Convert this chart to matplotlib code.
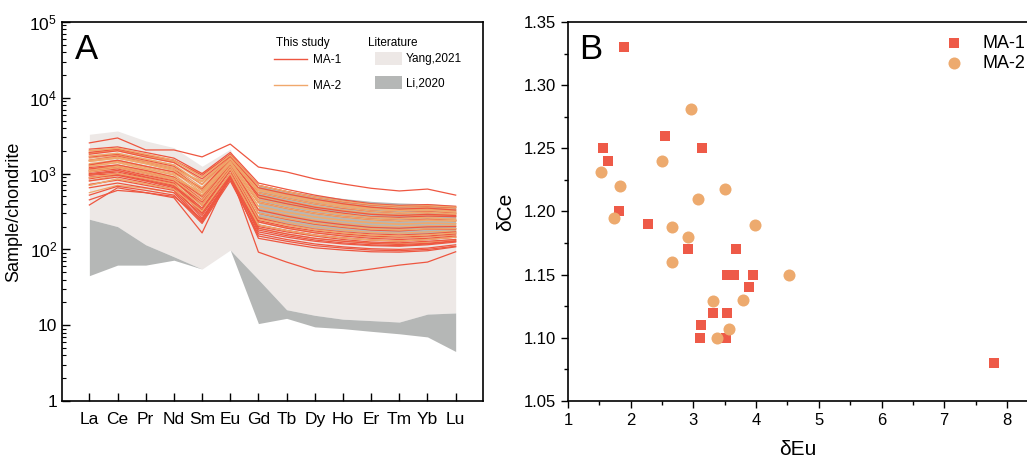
import matplotlib
matplotlib.use('Agg')
import matplotlib.pyplot as plt
import numpy as np
from matplotlib.lines import Line2D
from matplotlib.patches import Patch
from matplotlib.ticker import FixedLocator, FixedFormatter, MultipleLocator, LogLocator, NullFormatter

plt.rcParams['font.family'] = ['Liberation Sans', 'DejaVu Sans']
plt.rcParams['mathtext.default'] = 'regular'

# REE elements, chondrite normalised
elements = ['La', 'Ce', 'Pr', 'Nd', 'Sm', 'Eu', 'Gd', 'Tb', 'Dy', 'Ho', 'Er', 'Tm', 'Yb', 'Lu']

ma1_ree = [
    [2540, 2950, 2050, 2050, 1660, 2450, 1220, 1050, 850, 730, 640, 590, 625, 520],
    [385, 650, 560, 480, 165, 1000, 92, 68, 52, 49, 55, 62, 68, 93],
    [2100, 2250, 1900, 1600, 1000, 1900, 750, 620, 520, 450, 400, 380, 390, 370],
    [1800, 2000, 1650, 1400, 850, 1700, 650, 540, 460, 400, 360, 340, 350, 330],
    [1500, 1700, 1400, 1150, 600, 1500, 520, 430, 360, 320, 290, 280, 290, 280],
    [1200, 1300, 1100, 900, 500, 1400, 420, 350, 300, 270, 250, 240, 250, 240],
    [1050, 1150, 950, 800, 420, 1300, 300, 250, 215, 195, 180, 175, 185, 185],
    [950, 1000, 850, 700, 330, 1100, 230, 190, 165, 150, 140, 135, 140, 150],
    [1000, 1100, 900, 750, 300, 1000, 200, 170, 150, 135, 125, 122, 128, 135],
    [900, 950, 800, 650, 260, 900, 170, 145, 128, 118, 112, 110, 115, 125],
    [1100, 1200, 1000, 820, 380, 1200, 260, 215, 185, 170, 160, 155, 160, 170],
    [800, 900, 760, 620, 280, 950, 190, 160, 140, 128, 120, 116, 120, 130],
    [650, 750, 650, 560, 230, 850, 150, 128, 112, 104, 98, 96, 100, 110],
    [520, 680, 600, 520, 220, 800, 160, 135, 118, 108, 102, 100, 104, 115],
    [450, 600, 560, 500, 250, 900, 140, 120, 105, 98, 93, 92, 96, 108],
    [1300, 1500, 1250, 1050, 620, 1600, 480, 400, 340, 300, 270, 265, 275, 270],
    [1650, 1800, 1500, 1250, 720, 1650, 560, 470, 400, 350, 320, 305, 315, 300],
    [980, 1050, 880, 720, 350, 1150, 240, 200, 175, 160, 150, 145, 150, 160],
    [1150, 1250, 1050, 870, 450, 1350, 330, 275, 235, 212, 195, 190, 198, 200],
    [850, 980, 820, 680, 300, 1000, 210, 178, 155, 142, 133, 128, 135, 145],
    [1900, 2100, 1750, 1500, 950, 1800, 700, 580, 490, 425, 385, 365, 370, 355],
    [720, 820, 700, 600, 240, 880, 180, 152, 133, 122, 115, 112, 118, 128],
]

ma2_ree = [
    [2000, 2150, 1800, 1500, 900, 1750, 700, 580, 490, 430, 390, 370, 375, 360],
    [1850, 2000, 1700, 1400, 800, 1650, 620, 520, 440, 390, 350, 335, 340, 320],
    [1700, 1850, 1550, 1300, 720, 1550, 560, 470, 400, 355, 320, 305, 310, 295],
    [1600, 1750, 1450, 1200, 650, 1500, 500, 420, 360, 320, 290, 280, 285, 270],
    [1450, 1600, 1350, 1100, 600, 1450, 450, 380, 325, 290, 265, 255, 262, 250],
    [1350, 1500, 1250, 1050, 560, 1400, 410, 345, 295, 265, 245, 235, 242, 235],
    [1250, 1400, 1150, 960, 520, 1350, 370, 310, 268, 242, 225, 215, 222, 218],
    [1150, 1300, 1100, 900, 480, 1300, 340, 285, 245, 222, 205, 198, 205, 205],
    [1050, 1200, 1000, 830, 440, 1250, 300, 255, 220, 200, 185, 180, 186, 188],
    [950, 1100, 930, 770, 400, 1200, 270, 228, 198, 180, 168, 163, 170, 175],
    [880, 1000, 860, 720, 380, 1150, 250, 210, 182, 166, 155, 150, 156, 165],
    [800, 950, 800, 670, 350, 1100, 230, 194, 168, 154, 145, 140, 146, 155],
    [700, 850, 730, 620, 320, 1000, 210, 177, 154, 141, 133, 129, 135, 145],
    [560, 700, 640, 560, 300, 950, 190, 160, 140, 129, 122, 119, 124, 135],
    [1500, 1650, 1400, 1150, 780, 1600, 600, 500, 425, 375, 340, 325, 330, 310],
    [1900, 2050, 1700, 1450, 1000, 1700, 650, 545, 460, 405, 365, 350, 355, 340],
    [1100, 1250, 1050, 870, 560, 1400, 420, 350, 300, 270, 250, 240, 245, 240],
    [1300, 1450, 1200, 1000, 650, 1500, 520, 435, 370, 330, 300, 290, 295, 285],
]

# literature fields
yang_upper = [3300, 3650, 2700, 2200, 1250, 2100, 300, 250, 215, 195, 180, 175, 180, 180]
yang_lower = [250, 200, 115, 80, 55, 98, 40, 16, 13.5, 12, 11.5, 11, 14, 14.5]
li_lower = [45, 62, 62, 72, 55, 98, 10.5, 12.3, 9.5, 9, 8.3, 7.7, 7, 4.5]
li_hree_upper = [700, 600, 520, 470, 430, 410, 400, 380]
li_hree_lower = [260, 220, 190, 175, 165, 160, 160, 160]

# delta Eu vs delta Ce
ma1_eu = [1.89, 1.56, 1.64, 2.55, 3.13, 1.82, 2.27, 2.91, 3.68, 3.53, 3.64, 3.95, 3.88,
          3.32, 3.53, 3.12, 3.11, 3.52, 7.79]
ma1_ce = [1.33, 1.25, 1.24, 1.26, 1.25, 1.20, 1.19, 1.17, 1.17, 1.15, 1.15, 1.15, 1.14,
          1.12, 1.12, 1.11, 1.10, 1.10, 1.08]
ma2_eu = [2.96, 2.50, 1.53, 1.83, 3.50, 3.08, 1.74, 2.66, 3.98, 2.91, 2.66, 4.53, 3.31,
          3.79, 3.57, 3.37]
ma2_ce = [1.281, 1.24, 1.231, 1.22, 1.218, 1.21, 1.195, 1.188, 1.189, 1.18, 1.16, 1.15,
          1.129, 1.13, 1.107, 1.10]

RED = '#EE5640'
ORANGE = '#F0A86C'
YANG_C = '#EDE8E6'
LI_C = '#B5B7B6'

fig = plt.figure(figsize=(10.27, 4.59), dpi=100)
axA = fig.add_axes([0.0604, 0.1264, 0.4099, 0.8257])
axB = fig.add_axes([0.5531, 0.1264, 0.4469, 0.8257])

# ---- panel A: REE patterns ----
x = np.arange(len(elements))
axA.fill_between(x, yang_lower, yang_upper, color=YANG_C, lw=0, zorder=1)
axA.fill_between(x, li_lower, yang_lower, color=LI_C, lw=0, zorder=1)
axA.fill_between(x[6:], li_hree_lower, li_hree_upper, color=LI_C, lw=0, zorder=1)
for row in ma2_ree:
    axA.plot(x, row, color=ORANGE, lw=0.9, zorder=2)
for row in ma1_ree:
    axA.plot(x, row, color=RED, lw=0.9, zorder=3)
for i, row in enumerate(ma2_ree):
    if i % 2 == 0:
        axA.plot(x, row, color=ORANGE, lw=0.9, zorder=4)

axA.set_yscale('log')
axA.set_ylim(1, 1e5)
axA.set_xlim(-0.97, 13.97)
axA.set_xticks(x)
axA.set_xticklabels(elements, fontsize=12.5)
axA.yaxis.set_major_locator(FixedLocator([1, 10, 100, 1e3, 1e4, 1e5]))
axA.yaxis.set_major_formatter(FixedFormatter(['1', '10', '$10^2$', '$10^3$', '$10^4$', '$10^5$']))
axA.yaxis.set_minor_locator(LogLocator(base=10, subs=np.arange(2, 10)))
axA.yaxis.set_minor_formatter(NullFormatter())
axA.tick_params(axis='both', which='major', direction='in', length=6, width=1, labelsize=12.5)
axA.tick_params(axis='x', pad=8)
axA.tick_params(axis='y', which='minor', direction='in', length=3, width=0.8)
axA.set_ylabel('Sample/chondrite', fontsize=13, labelpad=5)
for sp in axA.spines.values():
    sp.set_linewidth(1.2)
axA.text(0.03, 0.97, 'A', transform=axA.transAxes, fontsize=25, va='top', ha='left')

# two-column legend with headings
axA.text(0.508, 0.945, 'This study', transform=axA.transAxes, fontsize=8.5, va='center')
axA.text(0.728, 0.945, 'Literature', transform=axA.transAxes, fontsize=8.5, va='center')
h_study = [Line2D([], [], color=RED, lw=1), Line2D([], [], color=ORANGE, lw=1)]
leg1 = axA.legend(h_study, ['MA-1', 'MA-2'], loc='upper left',
                  bbox_to_anchor=(0.49, 0.93), frameon=False, fontsize=8.5,
                  handlelength=2.8, labelspacing=1.15, handletextpad=0.5, borderpad=0)
axA.add_artist(leg1)
h_lit = [Patch(facecolor=YANG_C, lw=0), Patch(facecolor=LI_C, lw=0)]
axA.legend(h_lit, ['Yang,2021', 'Li,2020'], loc='upper left',
           bbox_to_anchor=(0.73, 0.937), frameon=False, fontsize=8.5,
           handlelength=2.3, handleheight=1.3, labelspacing=0.95,
           handletextpad=0.3, borderpad=0)

# ---- panel B: delta Eu vs delta Ce ----
axB.scatter(ma1_eu, ma1_ce, marker='s', s=55, color='#EE5A48', lw=0, label='MA-1', zorder=3)
axB.scatter(ma2_eu, ma2_ce, marker='o', s=75, color='#EDAA6E', lw=0, label='MA-2', zorder=3)
axB.set_xlim(1, 8.32)
axB.set_ylim(1.05, 1.35)
axB.xaxis.set_major_locator(MultipleLocator(1))
axB.xaxis.set_minor_locator(MultipleLocator(0.5))
axB.yaxis.set_major_locator(MultipleLocator(0.05))
axB.yaxis.set_minor_locator(MultipleLocator(0.025))
axB.yaxis.set_major_formatter(plt.FormatStrFormatter('%.2f'))
axB.tick_params(axis='both', which='major', direction='out', length=5, width=1, labelsize=12)
axB.tick_params(axis='both', which='minor', direction='out', length=3, width=1)
axB.spines['right'].set_visible(False)
for sp in ['left', 'bottom', 'top']:
    axB.spines[sp].set_linewidth(1.2)
axB.set_xlabel('δEu', fontsize=15, labelpad=9)
axB.set_ylabel('δCe', fontsize=15, labelpad=6)
axB.text(0.025, 0.97, 'B', transform=axB.transAxes, fontsize=25, va='top', ha='left')
axB.legend(loc='upper right', bbox_to_anchor=(1.025, 1.0), frameon=False, fontsize=13,
           handletextpad=0.6, labelspacing=0.2, borderpad=0.2)

fig.savefig('out.png', dpi=100)
